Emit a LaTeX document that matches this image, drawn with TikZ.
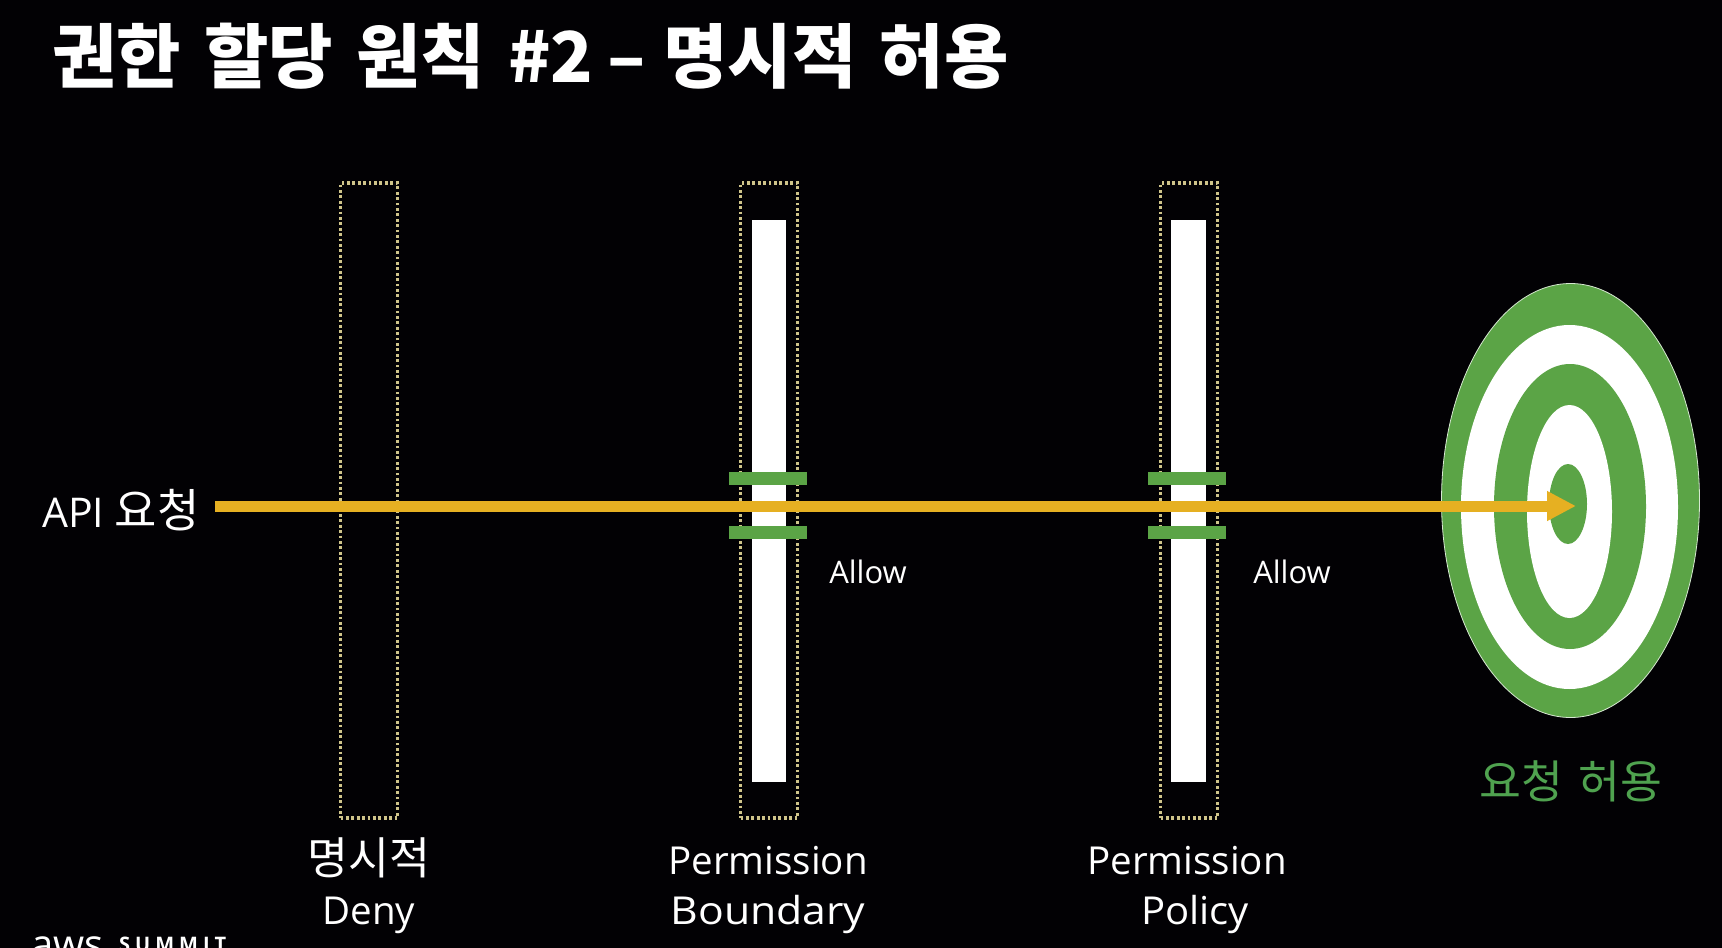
\documentclass[tikz,border=0pt]{standalone}
\usepackage{fontspec}
\usetikzlibrary{shapes.geometric,arrows.meta}
\setmainfont{Open Sans}
\newfontfamily\kr{Noto Sans CJK KR}
\newfontfamily\krt[WordSpace=1.45]{Noto Sans CJK KR}
\definecolor{bgc}{HTML}{020104}
\definecolor{grn}{HTML}{5BA446}
\definecolor{grntxt}{HTML}{4FA24F}
\definecolor{gold}{HTML}{E6B022}
\definecolor{dots}{HTML}{CFC48A}
\tikzset{
  lbl/.style={text=white,inner sep=0pt,font=\fontsize{38.5}{38.5}\selectfont,anchor=base},
  krlbl/.style={lbl,font=\kr\fontsize{44.5}{44.5}\selectfont},
  allowlbl/.style={lbl,font=\fontsize{31}{31}\selectfont},
  gate/.style={draw=dots,line width=3.4pt,dash pattern=on 2.8pt off 2.6pt,minimum width=57pt,minimum height=635pt,inner sep=0pt,rectangle},
  whitebar/.style={fill=white,minimum width=34.5pt,minimum height=562pt,inner sep=0pt,rectangle},
  greenbar/.style={fill=grn,minimum width=78pt,minimum height=13pt,inner sep=0pt,rectangle},
  ringg/.style={ellipse,fill=grn,inner sep=0pt},
  ringw/.style={ellipse,fill=white,inner sep=0pt}
}
\begin{document}
\begin{tikzpicture}[x=1pt,y=-1pt]
\fill[bgc] (0,0) rectangle (1722,948);
\useasboundingbox (0,0) rectangle (1722,948);
\clip (0,0) rectangle (1722,948);
\node[inner sep=0pt,anchor=base west,text=white,font=\krt\bfseries\fontsize{70}{70}\selectfont] (title) at (52,82) {권한 할당 원칙 \#2\hspace{-9pt} –\hspace{-6pt} 명시적 허용};
% gates
\node[gate] (g1) at (369,500.5) {};
\node[whitebar] (w2) at (769,501) {};
\node[gate] (g2) at (769,500.5) {};
\node[whitebar] (w3) at (1188.5,501) {};
\node[gate] (g3) at (1189,500.5) {};
\node[greenbar] (b2a) at (768,478) {};
\node[greenbar] (b2b) at (768,532.5) {};
\node[greenbar] (b3a) at (1187,478) {};
\node[greenbar] (b3b) at (1187,532.5) {};
% target
\node[ringg,draw=white!75!grn,line width=0.8pt,minimum width=258pt,minimum height=434pt] (t1) at (1570.5,500.5) {};
\node[ringw,minimum width=217pt,minimum height=364pt] (t2) at (1569.5,507) {};
\node[ringg,minimum width=152pt,minimum height=285pt] (t3) at (1570,506.5) {};
\node[ringw,minimum width=85pt,minimum height=213pt] (t4) at (1569.5,511.5) {};
\node[ringg,minimum width=38pt,minimum height=80pt] (t5) at (1568,504) {};
% arrow
\coordinate (as) at (215,506);
\coordinate (ae) at (1576,506);
\draw[gold,line width=11pt,-{Triangle[length=29pt,width=28pt]}] (as) -- (ae);
% labels
\node[lbl,anchor=base west,font=\fontsize{41}{41}\selectfont] (api) at (42,527) {API {\kr\fontsize{46}{46}\selectfont 요청}};
\node[allowlbl] (al1) at (868,583) {Allow};
\node[allowlbl] (al2) at (1292,583) {Allow};
\node[krlbl] (d1) at (369,874) {명시적};
\node[lbl] (d2) at (369,924) {Deny};
\node[lbl] (p1) at (768,874) {Permission};
\node[lbl,xscale=1.11] (p2) at (768,924) {Boundary};
\node[lbl] (q1) at (1187,874) {Permission};
\node[lbl,xscale=1.04] (q2) at (1195,924) {Policy};
\node[krlbl,text=grntxt,font=\krt\fontsize{45.5}{45.5}\selectfont] (ok) at (1571,798) {요청 허용};
\node[inner sep=0pt,anchor=base west,text=white,font=\fontsize{40}{40}\selectfont] (aws) at (31,958) {aws};
\node[inner sep=0pt,anchor=base west,text=white,font=\bfseries\fontsize{20}{20}\selectfont] (summit) at (119,951) {S\hspace{5pt}U\hspace{5pt}M\hspace{5pt}M\hspace{5pt}I\hspace{5pt}T};
\end{tikzpicture}
\end{document}
